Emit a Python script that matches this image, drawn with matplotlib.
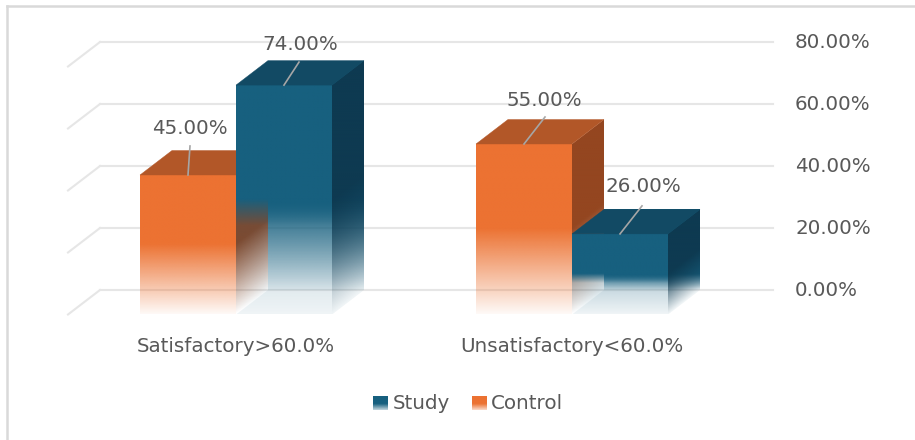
import numpy as np
import matplotlib
matplotlib.use("Agg")
import matplotlib.pyplot as plt
from matplotlib.patches import Polygon
from matplotlib.colors import to_rgb

# data
categories = ["Satisfactory>60.0%", "Unsatisfactory<60.0%"]
control = [45.0, 55.0]
study = [74.0, 26.0]
yticks = [0, 20, 40, 60, 80]

# colours (front, top, side)
C_ORANGE = ("#ec7232", "#b25728", "#944620")
C_BLUE = ("#17607f", "#124a64", "#0e3a51")
TXT = "#595959"
GRID = "#e6e6e6"

# layout, derived from pixel geometry of the figure
W, H = 915, 440
PX_CAT = 336.0      # px per category step
PX_PCT = 3.1        # px per percent
X0, Y0 = 236.0, 314.5
BW = 96 / PX_CAT
DX = 32 / PX_CAT
DY = 24.5 / PX_PCT
WALL_L = (100 - X0) / PX_CAT
WALL_R = (773 - X0) / PX_CAT
TICK_X = (795 - X0) / PX_CAT

plt.rcParams["font.family"] = ["DejaVu Sans"]
FS = 14.3

fig = plt.figure(figsize=(W / 100, H / 100), dpi=100)
ax = fig.add_axes([0, 0, 1, 1])
ax.set_xlim(-X0 / PX_CAT, (W - X0) / PX_CAT)
ax.set_ylim((Y0 - H) / PX_PCT, Y0 / PX_PCT)
ax.set_autoscale_on(False)
ax.axis("off")


def grad_face(verts, color, alpha_fn, z=2):
    verts = np.asarray(verts)
    x0, y0 = verts.min(axis=0)
    x1, y1 = verts.max(axis=0)
    X, Y = np.meshgrid(np.linspace(x0, x1, 80), np.linspace(y0, y1, 240))
    img = np.zeros(X.shape + (4,))
    img[..., :3] = to_rgb(color)
    img[..., 3] = np.clip(alpha_fn(X, Y), 0, 1)
    poly = Polygon(verts, closed=True, transform=ax.transData)
    im = ax.imshow(img, extent=(x0, x1, y0, y1), origin="lower",
                   aspect="auto", interpolation="bilinear", zorder=z)
    im.set_clip_path(poly)


def solid_face(verts, color, z=2):
    ax.add_patch(Polygon(verts, closed=True, facecolor=color,
                         edgecolor=color, lw=0.3, zorder=z))


def fade(base, span, floor=0.0):
    return lambda X, Y: floor + (1 - floor) * (Y - base(X)) / span


# back wall gridlines + left side wall lines
for v in yticks:
    ax.plot([WALL_L, WALL_R], [v + DY, v + DY], color=GRID, lw=1.5, zorder=0)
    ax.plot([WALL_L - DX, WALL_L], [v, v + DY], color=GRID, lw=1.5, zorder=0)
    ax.text(TICK_X, v + DY, f"{v:.2f}%", ha="left", va="center",
            fontsize=FS, color=TXT)


def right_face(x, v, cols):
    xr = x + BW
    verts = [(xr, 0), (xr + DX, DY), (xr + DX, v + DY), (xr, v)]
    grad_face(verts, cols[2], fade(lambda X: DY * (X - xr) / DX, v / 2))


def top_face(x, v, cols):
    solid_face([(x, v), (x + BW, v), (x + BW + DX, v + DY), (x + DX, v + DY)],
               cols[1])


def orange_bar(x, v):
    right_face(x, v, C_ORANGE)
    grad_face([(x, 0), (x + BW, 0), (x + BW, v), (x, v)], C_ORANGE[0],
              fade(lambda X: 0 * X, v / 2, 0.04))
    top_face(x, v, C_ORANGE)


def blue_front_alpha(mid):
    def f(X, Y):
        low = 0.3 * Y / mid
        ramp = 1 - (mid - Y) / (0.3 * mid)
        return np.where(Y >= mid, 1.0, np.maximum(low, ramp))
    return f


def blue_bar(x, v):
    mid = v / 2
    # floor and back face seen through the faded lower half
    grad_face([(x, 0), (x + BW, 0), (x + BW + DX, DY), (x + DX, DY)],
              C_BLUE[0], lambda X, Y: 0.07 + 0 * X)
    grad_face([(x + DX, DY), (x + BW + DX, DY), (x + BW + DX, v + DY),
               (x + DX, v + DY)], C_BLUE[0],
              lambda X, Y: 0.12 + 0.88 * (Y - DY) / (mid - DY))
    right_face(x, v, C_BLUE)
    # front face: solid top half, mostly clear below
    grad_face([(x, 0), (x + BW, 0), (x + BW, v), (x, v)], C_BLUE[0],
              blue_front_alpha(mid))
    top_face(x, v, C_BLUE)


for i in range(len(categories)):
    orange_bar(i - BW, control[i])
    blue_bar(i, study[i])

# data labels with leader lines (offsets in px: line end dx, dy; label dx, dy)
label_off = {
    (0, 0): (2, 29, 2, 47), (0, 1): (15, 23, 16, 41),
    (1, 0): (21, 27, 20, 43), (1, 1): (22, 28, 23, 47),
}
for i in range(len(categories)):
    for s, vals in enumerate([control, study]):
        v = vals[i]
        cx = i - BW / 2 if s == 0 else i + BW / 2
        lx, ly, tx, ty = label_off[(i, s)]
        ax.plot([cx, cx + lx / PX_CAT], [v, v + ly / PX_PCT],
                color="#a6a6a6", lw=1.2, zorder=5)
        ax.text(cx + tx / PX_CAT, v + ty / PX_PCT, f"{v:.2f}%",
                ha="center", va="center", fontsize=FS, color=TXT, zorder=6)

# category labels
for i, name in enumerate(categories):
    ax.text(i, (Y0 - 346) / PX_PCT, name, ha="center", va="center",
            fontsize=FS, color=TXT)

# legend
sq_w, sq_h = 15 / PX_CAT, 14 / PX_PCT
ly = (Y0 - 403) / PX_PCT
for name, cols, px_sq, px_txt in [("Study", C_BLUE, 373, 393),
                                  ("Control", C_ORANGE, 472, 491)]:
    sx = (px_sq - X0) / PX_CAT
    yb = ly - sq_h / 2
    grad_face([(sx, yb), (sx + sq_w, yb), (sx + sq_w, yb + sq_h), (sx, yb + sq_h)],
              cols[0], fade(lambda X, yb=yb: 0 * X + yb - sq_h * 0.15, sq_h * 0.6))
    ax.text((px_txt - X0) / PX_CAT, ly, name, ha="left", va="center",
            fontsize=FS, color=TXT)

# outer frame (only left/top visible in the crop)
fig.add_artist(plt.Line2D([7 / W, 7 / W], [0, 1 - 6 / H], color="#d9d9d9", lw=1.8))
fig.add_artist(plt.Line2D([7 / W, 1], [1 - 6 / H, 1 - 6 / H], color="#d9d9d9", lw=1.8))

fig.savefig("out.png", dpi=100, facecolor="white")
